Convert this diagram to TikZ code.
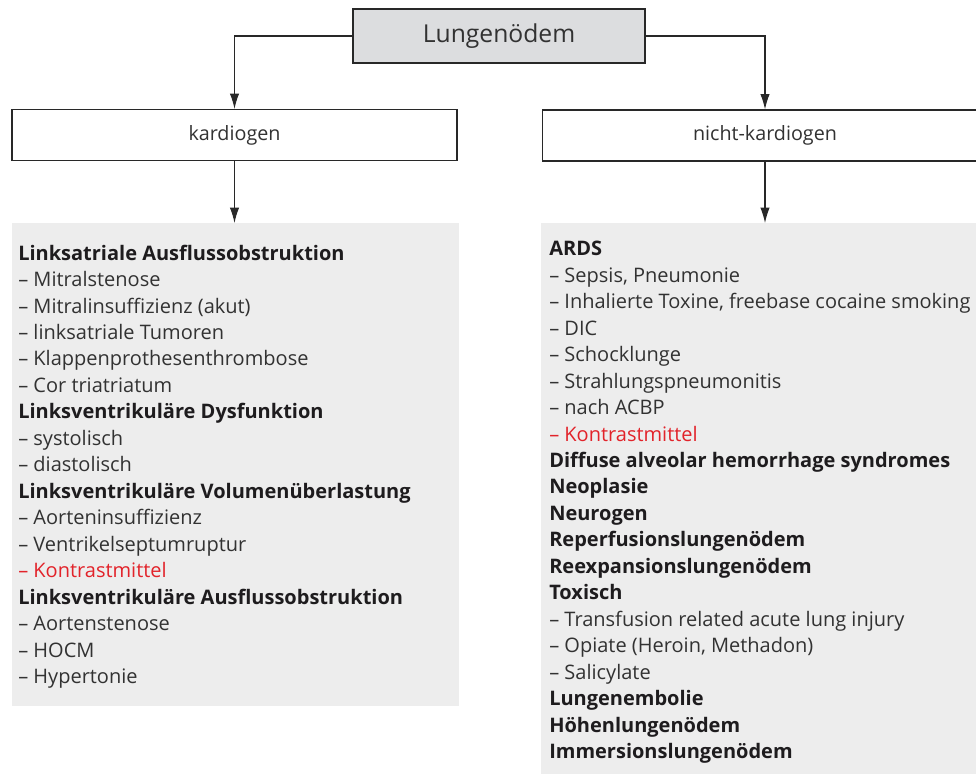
\documentclass[tikz,border=0pt]{standalone}
\usepackage{fontspec}
\setmainfont{Open Sans}
\usepackage{xcolor}
\usetikzlibrary{arrows.meta,positioning}

\definecolor{boxgray}{RGB}{220,221,223}
\definecolor{panelgray}{RGB}{237,237,237}
\definecolor{linegray}{RGB}{40,40,40}
\definecolor{txtgray}{RGB}{50,50,50}
\definecolor{headblack}{RGB}{30,28,30}
\definecolor{kmred}{RGB}{226,35,42}

\newcommand{\head}[1]{\textcolor{headblack}{\textbf{#1}}}
\newcommand{\itm}[1]{\textendash\ #1}
\newcommand{\redit}[1]{\textcolor{kmred}{\textendash\ #1}}

\begin{document}
\begin{tikzpicture}[x=0.75pt,y=-0.75pt,
  every node/.style={text=txtgray,inner sep=0pt},
  topbox/.style={draw=linegray,line width=1.1pt,fill=boxgray,minimum width=219pt,minimum height=40.5pt,font=\fontsize{18.5}{22}\selectfont},
  catbox/.style={draw=linegray,line width=1.1pt,fill=white,minimum width=333.75pt,minimum height=38pt,font=\fontsize{14.8}{17}\selectfont},
  panel/.style={fill=panelgray,anchor=north west,minimum width=335.25pt},
  listtext/.style={anchor=north west,align=left,font=\fontsize{15}{19.85}\selectfont},
  arr/.style={draw=linegray,line width=0.8pt,-{Latex[length=11.5pt,width=7pt]}}]
\useasboundingbox (0,0) rectangle (976,774);

% Kopf und Kategorien
\node[topbox] (lung) at (499,36) {Lungenödem};
\node[catbox] (kard) at (234.5,135) {kardiogen};
\node[catbox] (nkard) at (765,135.5) {nicht-kardiogen};

% graue Felder
\node[panel,minimum height=362.25pt] (kpanel) at (12,223) {};
\node[panel,minimum height=420pt] (npanel) at (541,223) {};

\draw[arr] (lung.west) -| (kard.north);
\draw[arr] (lung.east) -| (nkard.north);
\draw[arr] (kard.south) -- (kard.south |- kpanel.north);
\draw[arr] (nkard.south) -- (nkard.south |- npanel.north);

% Ursachen kardiogen
\node[listtext] (klist) at (18,244.5) {%
  \head{Linksatriale Ausflussobstruktion}\\
  \itm{Mitralstenose}\\
  \itm{Mitralinsuffizienz (akut)}\\
  \itm{linksatriale Tumoren}\\
  \itm{Klappenprothesenthrombose}\\
  \itm{Cor triatriatum}\\
  \head{Linksventrikuläre Dysfunktion}\\
  \itm{systolisch}\\
  \itm{diastolisch}\\
  \head{Linksventrikuläre Volumenüberlastung}\\
  \itm{Aorteninsuffizienz}\\
  \itm{Ventrikelseptumruptur}\\
  \redit{Kontrastmittel}\\
  \head{Linksventrikuläre Ausflussobstruktion}\\
  \itm{Aortenstenose}\\
  \itm{HOCM}\\
  \itm{Hypertonie}};

% Ursachen nicht-kardiogen
\node[listtext] (nlist) at (549,241) {%
  \head{ARDS}\\
  \itm{Sepsis, Pneumonie}\\
  \itm{Inhalierte Toxine, freebase cocaine smoking}\\
  \itm{DIC}\\
  \itm{Schocklunge}\\
  \itm{Strahlungspneumonitis}\\
  \itm{nach ACBP}\\
  \redit{Kontrastmittel}\\
  \head{Diffuse alveolar hemorrhage syndromes}\\
  \head{Neoplasie}\\
  \head{Neurogen}\\
  \head{Reperfusionslungenödem}\\
  \head{Reexpansionslungenödem}\\
  \head{Toxisch}\\
  \itm{Transfusion related acute lung injury}\\
  \itm{Opiate (Heroin, Methadon)}\\
  \itm{Salicylate}\\
  \head{Lungenembolie}\\
  \head{Höhenlungenödem}\\
  \head{Immersionslungenödem}};
\end{tikzpicture}
\end{document}
